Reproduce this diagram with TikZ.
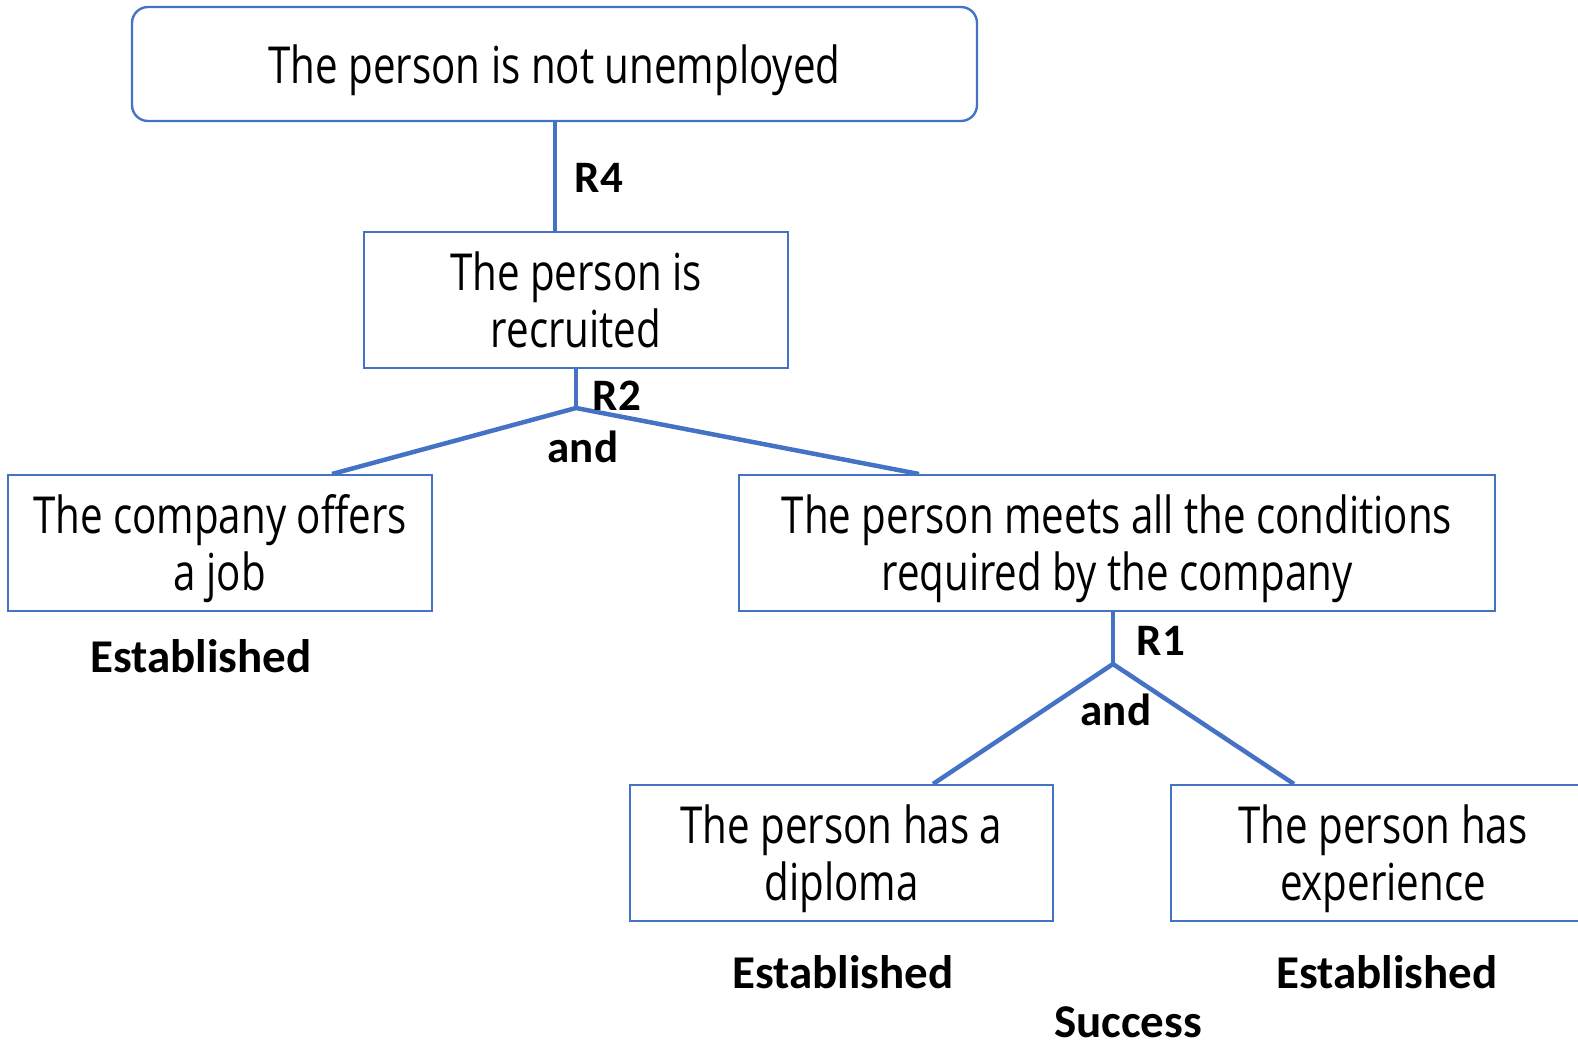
\documentclass[tikz,border=0pt]{standalone}
\usepackage{fontspec}
\setmainfont{Open Sans}[FakeStretch=0.79]
\newfontfamily\labelfont{Carlito}
\definecolor{linkblue}{HTML}{4472C4}
% centred lines, set a little below the middle of their box
\newcommand{\claimlines}[1]{\raisebox{-8pt}[\height][\depth]{\setlength{\tabcolsep}{0pt}\begin{tabular}{c}#1\end{tabular}}}
\begin{document}
\begin{tikzpicture}[x=1pt,y=-1pt,
  claim/.style={draw=linkblue,line width=2.4pt,inner sep=0pt,
    font=\fontsize{51}{57}\selectfont},
  link/.style={draw=linkblue,line width=4.5pt},
  rulelbl/.style={font=\labelfont\bfseries\fontsize{45}{45}\selectfont,inner sep=0pt},
  status/.style={font=\labelfont\bfseries\fontsize{47}{47}\selectfont,inner sep=0pt}]
\useasboundingbox (0,0) rectangle (1578,1044);
\begin{scope}
\clip (0,0) rectangle (1578,1044);
% claims
\node[claim,rounded corners=16pt,minimum width=845pt,minimum height=114pt] (top) at (554.5,64) {\claimlines{The person is not unemployed}};
\node[claim,minimum width=424pt,minimum height=136pt] (rec) at (576,300) {\claimlines{The person is\\recruited}};
\node[claim,minimum width=424pt,minimum height=136pt] (job) at (220,543) {\claimlines{The company offers\\a job}};
\node[claim,minimum width=756pt,minimum height=136pt] (cond) at (1117,543) {\claimlines{The person meets all the conditions\\required by the company}};
\node[claim,minimum width=423pt,minimum height=136pt] (dip) at (841.5,853) {\claimlines{The person has a\\diploma}};
\node[claim,minimum width=440pt,minimum height=136pt] (exp) at (1391,853) {\claimlines{\hspace*{-16pt}The person has\\\hspace*{-16pt}experience}};
% junctions
\coordinate (j2) at (576,408);
\coordinate (j1) at (1113,664);
% connectors
\draw[link] (top.south -| 555,0) -- (rec.north -| 555,0);
\draw[link] (rec.south) -- (j2);
\draw[link,line join=miter] (332,474) -- (j2) -- (919,474);
\draw[link] (cond.south -| j1) -- (j1);
\draw[link] (933,784) -- (j1) -- (1294,784);
\end{scope}
% labels
\node[rulelbl] (r4) at (599,178) {R4};
\node[rulelbl] (r2) at (617,396) {R2};
\node[rulelbl] (a2) at (583,447) {and};
\node[rulelbl] (r1) at (1161,641) {R1};
\node[rulelbl] (a1) at (1116,710) {and};
\node[status] (s1) at (201,656) {Established};
\node[status] (s2) at (843,972) {Established};
\node[status] (s3) at (1387,972) {Established};
\node[status,text depth=0pt] (s4) at (1128,1022) {Success};
\end{tikzpicture}
\end{document}
